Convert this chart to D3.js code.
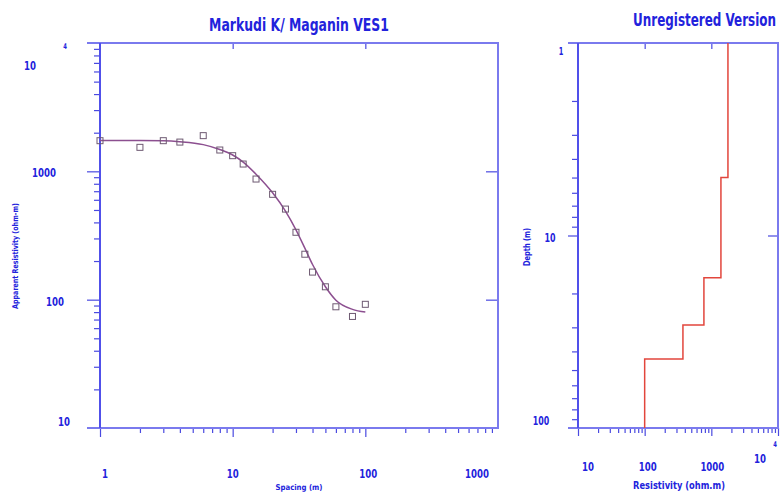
<!DOCTYPE html>
<html lang="en">
<head>
<meta charset="utf-8">
<title>Markudi K/ Maganin VES1</title>
<script src="https://cdn.jsdelivr.net/npm/d3@7"></script>
<style>
  body { margin: 0; background: #fff; }
  svg text {
    font-family: "Liberation Sans Narrow", "DejaVu Sans Condensed", "Arial Narrow", sans-serif;
    font-weight: bold;
    fill: #2222dc;
  }
  .frame { stroke: #7a7aee; stroke-width: 2; fill: none; }
  .tick line { stroke: #4a4ae0; stroke-width: 1.2; }
  .domain { display: none; }
</style>
</head>
<body>
<script>
// sounding data: spacing (m) vs apparent resistivity (ohm-m)
let spacing = [1, 2, 3, 4, 6, 8, 10, 12, 15, 20, 25, 30, 35, 40, 50, 60, 80, 100]
let apparentRes = [1733, 1538, 1733, 1690, 1897, 1466, 1324, 1140, 871, 662, 508, 335, 226, 164, 126, 88, 74, 92]

// fitted curve
let curveSpacing = [1, 2, 3, 4, 6, 8, 10, 12, 15, 20, 25, 30, 35, 40, 50, 60, 80, 100]
let curveRes = [1735, 1735, 1728, 1700, 1615, 1480, 1340, 1180, 950, 680, 490, 350, 252, 188, 126, 99, 84, 80]

// layered model: resistivity of each layer and depth of its bottom
let layerRes = [1775, 1393, 774, 375, 100]
let layerDepth = [5.0, 16.6, 29.2, 43.8]

let leftXTicks = ["1", "10", "100", "1000"]
let leftYTicks = ["10", "100", "1000", "10^4"]
let rightXTicks = ["10", "100", "1000", "10^4"]
let rightYTicks = ["1", "10", "100"]

let w = 782, h = 496

let svg = d3.select("body").append("svg")
  .attr("width", w)
  .attr("height", h)

// narrow bold label: squeeze it horizontally to the wanted width
function label(g, x, y, str, size, anchor, width, rotate) {
  let t = g.append("text")
    .attr("text-anchor", anchor || "middle")
    .style("font-size", size + "px")
    .text(str)
  let want = width || str.length * size * 0.46
  let natural = t.node().getComputedTextLength()
  let sx = Math.min(1, want / natural)
  t.attr("transform", "translate(" + x + "," + y + ")" +
    (rotate ? " rotate(" + rotate + ")" : "") + " scale(" + sx + ",1)")
  return t
}

// ---------- left panel ----------
let L = {x1: 100, x2: 498, y1: 43, y2: 428}

let xScale = d3.scaleLog().domain([1, 1000]).range([L.x1, L.x2])
let yScale = d3.scaleLog().domain([10, 10000]).range([L.y2, L.y1])

function minorTicks(lo, hi) {
  let out = []
  for (let d = lo; d < hi; d *= 10) {
    for (let k = 2; k <= 9; k++) out.push(d * k)
  }
  return out
}

let left = svg.append("g")

// left axis: minor + major outward ticks
left.append("g").attr("transform", "translate(" + L.x1 + ",0)")
  .call(d3.axisLeft(yScale).tickValues(minorTicks(10, 10000)).tickSize(6).tickFormat(""))
left.append("g").attr("transform", "translate(" + L.x1 + ",0)")
  .call(d3.axisLeft(yScale).tickValues([100, 1000]).tickSize(13).tickFormat(""))

// bottom axis
left.append("g").attr("transform", "translate(0," + L.y2 + ")")
  .call(d3.axisBottom(xScale).tickValues(minorTicks(1, 1000)).tickSize(5).tickFormat(""))
left.append("g").attr("transform", "translate(0," + L.y2 + ")")
  .call(d3.axisBottom(xScale).tickValues([1, 10, 100]).tickSize(9).tickFormat(""))

// top and right inner ticks
left.append("g").attr("transform", "translate(0," + L.y1 + ")")
  .call(d3.axisBottom(xScale).tickValues([10, 100]).tickSize(6).tickFormat(""))
left.append("g").attr("transform", "translate(" + L.x2 + ",0)")
  .call(d3.axisLeft(yScale).tickValues([100, 1000]).tickSize(12).tickFormat(""))

// frame
left.append("path").attr("class", "frame")
  .attr("d", "M" + (L.x1 - 13) + "," + L.y1 + "H" + L.x2 + "V" + L.y2 + "H" + (L.x1 - 13))
left.append("line").attr("class", "frame")
  .attr("x1", L.x1).attr("x2", L.x1).attr("y1", L.y1).attr("y2", L.y2)
  .style("stroke", "#5050ea")

// tick labels
let leftYOff = {"10": [64, -7], "100": [55, 1], "1000": [44, 1], "10^4": [30, 22]}
leftYTicks.forEach(function(t) {
  let v = t == "10^4" ? 10000 : +t
  let o = leftYOff[t]
  if (t == "10^4") {
    label(left, o[0], yScale(v) + o[1] + 5, "10", 13)
    label(left, 65, yScale(v) + 6, "4", 8)
  } else {
    label(left, o[0], yScale(v) + o[1] + 5, t, 13)
  }
})

let leftXOff = {"1": 5, "10": 0, "100": 3, "1000": -21}
leftXTicks.forEach(function(t) {
  label(left, xScale(+t) + leftXOff[t], 478, t, 13)
})

label(left, (L.x1 + L.x2) / 2, 31, "Markudi K/ Maganin VES1", 17, "middle", 180)
label(left, 299, 490, "Spacing (m)", 8, "middle", 47)
label(left, 18, 256, "Apparent Resistivity (ohm-m)", 8, "middle", 106, -90)

// fitted curve
let curvePts = curveSpacing.map((s, i) => [s, curveRes[i]])
left.append("path")
  .datum(curvePts)
  .attr("fill", "none")
  .attr("stroke", "#8c4f90")
  .attr("stroke-width", 1.5)
  .attr("d", d3.line()
    .x((d) => xScale(d[0]))
    .y((d) => yScale(d[1]))
    .curve(d3.curveMonotoneX))

// observed points
left.selectAll("rect.obs")
  .data(spacing.map((s, i) => [s, apparentRes[i]]))
  .enter()
  .append("rect")
  .attr("class", "obs")
  .attr("x", (d) => xScale(d[0]) - 3)
  .attr("y", (d) => yScale(d[1]) - 3)
  .attr("width", 6)
  .attr("height", 6)
  .attr("fill", "none")
  .attr("stroke", "#6e5a72")
  .attr("stroke-width", 1)

// ---------- right panel ----------
let R = {x1: 578, x2: 778, y1: 43, y2: 428}

let rxScale = d3.scaleLog().domain([10, 10000]).range([R.x1, R.x2])
let ryScale = d3.scaleLog().domain([1, 100]).range([R.y1, R.y2])

let right = svg.append("g")

right.append("g").attr("transform", "translate(" + R.x1 + ",0)")
  .call(d3.axisLeft(ryScale).tickValues(minorTicks(1, 100)).tickSize(6).tickFormat(""))
right.append("g").attr("transform", "translate(" + R.x1 + ",0)")
  .call(d3.axisLeft(ryScale).tickValues([10]).tickSize(10).tickFormat(""))

right.append("g").attr("transform", "translate(0," + R.y2 + ")")
  .call(d3.axisBottom(rxScale).tickValues(minorTicks(10, 10000)).tickSize(5).tickFormat(""))
right.append("g").attr("transform", "translate(0," + R.y2 + ")")
  .call(d3.axisBottom(rxScale).tickValues([10, 100, 1000, 10000]).tickSize(8).tickFormat(""))

right.append("g").attr("transform", "translate(0," + R.y1 + ")")
  .call(d3.axisBottom(rxScale).tickValues([100, 1000]).tickSize(6).tickFormat(""))
right.append("g").attr("transform", "translate(" + R.x2 + ",0)")
  .call(d3.axisLeft(ryScale).tickValues([10]).tickSize(10).tickFormat(""))

right.append("path").attr("class", "frame")
  .attr("d", "M" + (R.x1 - 10) + "," + R.y1 + "H" + R.x2 + "V" + R.y2 + "H" + (R.x1 - 10))
right.append("line").attr("class", "frame")
  .attr("x1", R.x1).attr("x2", R.x1).attr("y1", R.y1).attr("y2", R.y2)
  .style("stroke", "#5050ea")

let rightYOff = {"1": [561, 8], "10": [550, 2], "100": [541, -7]}
rightYTicks.forEach(function(t) {
  let o = rightYOff[t]
  label(right, o[0], ryScale(+t) + o[1] + 4, t, t == "1" ? 10 : 12)
})

let rightXOff = {"10": 10, "100": 3, "1000": 1}
rightXTicks.forEach(function(t) {
  if (t == "10^4") {
    label(right, 760, 463, "10", 13)
    label(right, 775, 447, "4", 8)
  } else {
    label(right, rxScale(+t) + rightXOff[t], 471, t, 13)
  }
})

label(right, 776, 26, "Unregistered Version", 17, "end", 143)
label(right, 679, 489, "Resistivity (ohm.m)", 10, "middle", 92)
label(right, 530, 247, "Depth (m)", 9, "middle", 38, -90)

// step model
let steps = []
let layerTop = 1
layerRes.forEach(function(r, i) {
  let bottom = i < layerDepth.length ? layerDepth[i] : 100
  steps.push([r, layerTop])
  steps.push([r, bottom])
  layerTop = bottom
})
right.append("path")
  .datum(steps)
  .attr("fill", "none")
  .attr("stroke", "#e2463c")
  .attr("stroke-width", 1.5)
  .attr("d", d3.line()
    .x((d) => rxScale(d[0]))
    .y((d) => ryScale(d[1])))
</script>
</body>
</html>
